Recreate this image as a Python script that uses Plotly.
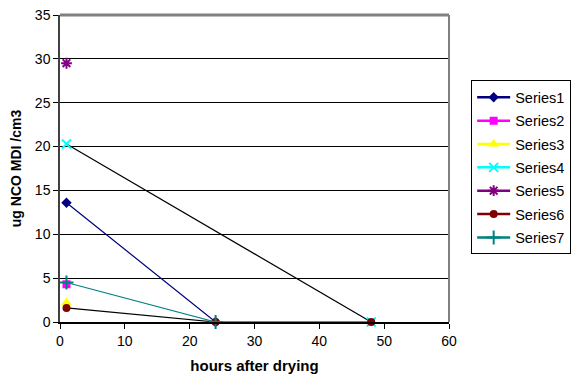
import plotly.graph_objects as go

series_names = ["Series1", "Series2", "Series3", "Series4", "Series5", "Series6", "Series7"]
s1_x = [1, 24]; s1_y = [13.6, 0]
s2_x = [1]; s2_y = [4.3]
s3_x = [1]; s3_y = [2.2]
s4_x = [1, 48]; s4_y = [20.3, 0]
s5_x = [1]; s5_y = [29.5]
s6_x = [1, 24, 48]; s6_y = [1.6, 0, 0]
s7_x = [1, 24]; s7_y = [4.5, 0]

xs = [s1_x, s2_x, s3_x, s4_x, s5_x, s6_x, s7_x]
ys = [s1_y, s2_y, s3_y, s4_y, s5_y, s6_y, s7_y]
colors = ["#000080", "#FF00FF", "#FFFF00", "#00FFFF", "#800080", "#800000", "#008080"]
plot_line_colors = ["#000080", "#FF00FF", "#FFFF00", "#000000", "#800080", "#000000", "#008080"]
symbols = ["diamond", "square", "triangle-up", "x-thin", "asterisk", "circle", "cross-thin"]
sizes = [8, 8, 10, 9, 9, 8, 10]

fig = go.Figure()
for i, name in enumerate(series_names):
    is_line = symbols[i] in ("x-thin", "asterisk", "cross-thin")
    mk = dict(symbol=symbols[i], color=colors[i], size=sizes[i],
              line=dict(color=colors[i], width=2 if is_line else 0))
    fig.add_trace(go.Scatter(x=xs[i], y=ys[i], mode="lines+markers", name=name,
                             line=dict(color=plot_line_colors[i], width=1.2),
                             marker=mk, showlegend=False, cliponaxis=False))
for i, name in enumerate(series_names):
    is_line = symbols[i] in ("x-thin", "asterisk", "cross-thin")
    mk = dict(symbol=symbols[i], color=colors[i], size=sizes[i],
              line=dict(color=colors[i], width=2 if is_line else 0))
    fig.add_trace(go.Scatter(x=[None], y=[None], mode="lines+markers", name=name,
                             line=dict(color=colors[i], width=2.5),
                             marker=mk, legendgroup=name, showlegend=True))

fig.update_layout(
    width=573, height=374,
    margin=dict(l=52, r=132, t=7, b=60, autoexpand=False),
    paper_bgcolor="white", plot_bgcolor="white",
    font=dict(family="Liberation Sans, Arial, sans-serif", size=12, color="black"),
    showlegend=True,
    legend=dict(x=1.057, y=0.787, xanchor="left", yanchor="top",
                bordercolor="black", borderwidth=1, bgcolor="white",
                font=dict(size=14.5), itemwidth=33, tracegroupgap=1.5,
                traceorder="grouped"),
    xaxis=dict(range=[0, 60], tickvals=[0, 10, 20, 30, 40, 50, 60], automargin=False,
               showgrid=False, zeroline=False, showline=True, linecolor="black", linewidth=1.5,
               ticks="outside", ticklen=5, tickcolor="black", mirror=False,
               tickfont=dict(size=14), ticklabeloverflow="allow",
               title=dict(text="<b>hours after drying</b>", font=dict(size=15), standoff=13)),
    yaxis=dict(range=[0, 35], tickvals=[0, 5, 10, 15, 20, 25, 30, 35], automargin=False,
               showgrid=True, gridcolor="black", gridwidth=1, zeroline=False,
               showline=True, linecolor="#404040", linewidth=1.5,
               ticks="outside", ticklen=5, tickcolor="black",
               tickfont=dict(size=14), ticklabeloverflow="allow",
               title=dict(text="<b>ug NCO MDI /cm3</b>", font=dict(size=14), standoff=11)),
)
# gray plot-area border on top and right
fig.add_shape(type="line", xref="paper", yref="paper", x0=0, x1=1, y0=1, y1=1,
              line=dict(color="#808080", width=3))
fig.add_shape(type="line", xref="paper", yref="paper", x0=1, x1=1, y0=0, y1=1,
              line=dict(color="#808080", width=2))

fig.write_html("out.html")
